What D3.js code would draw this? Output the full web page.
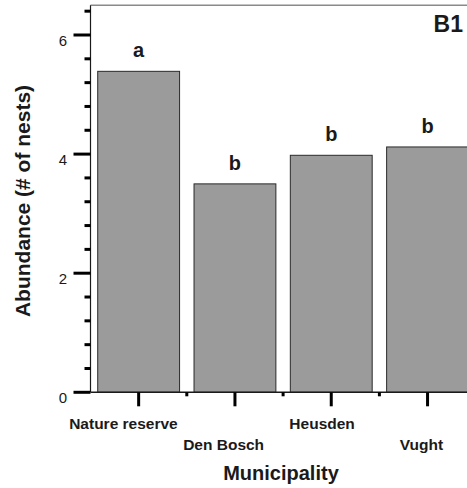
<!DOCTYPE html>
<html>
<head>
<meta charset="utf-8">
<script src="https://cdn.jsdelivr.net/npm/d3@7"></script>
<style>
  html, body { margin: 0; padding: 0; background: #fff; }
  svg { display: block; }
  text { font-family: "Liberation Sans", Arial, Helvetica, sans-serif; fill: #1a1a1a; }
</style>
</head>
<body>
<svg id="chart" width="467" height="488"></svg>
<script>
// Nest abundance per municipality
const categories = ["Nature reserve", "Den Bosch", "Heusden", "Vught"];
const abundance = [5.39, 3.50, 3.98, 4.12];
const groupLetters = ["a", "b", "b", "b"];
const yTickValues = [0, 2, 4, 6];
const yMinorValues = [0.4, 0.8, 1.2, 1.6, 2.4, 2.8, 3.2, 3.6, 4.4, 4.8, 5.2, 5.6, 6.4];
const panelLabel = "B1";
const xTitle = "Municipality";
const yTitle = "Abundance (# of nests)";

const svg = d3.select("#chart");
const W = 467, H = 488;
const left = 90.5, bottom = 392.3;

const x = d3.scaleBand()
  .domain(categories)
  .range([left, left + 4 * 96.3])
  .paddingInner(0.15)
  .paddingOuter(0.075);

const y = d3.scaleLinear()
  .domain([0, 6.5])
  .range([bottom, bottom - 6.5 * 59.55]);

// top frame line
svg.append("line")
  .attr("x1", left).attr("x2", W)
  .attr("y1", y(6.5)).attr("y2", y(6.5))
  .attr("stroke", "#8a8a8a").attr("stroke-width", 1.5);

// bars
svg.append("g").selectAll("rect")
  .data(categories)
  .join("rect")
  .attr("x", d => x(d))
  .attr("y", (d, i) => y(abundance[i]))
  .attr("width", x.bandwidth())
  .attr("height", (d, i) => y(0) - y(abundance[i]))
  .attr("fill", "#9b9b9b")
  .attr("stroke", "#2a2a2a")
  .attr("stroke-width", 1);

// significance letters
svg.append("g").selectAll("text")
  .data(categories)
  .join("text")
  .attr("x", d => x(d) + x.bandwidth() / 2)
  .attr("y", (d, i) => y(abundance[i]) - 14)
  .attr("text-anchor", "middle")
  .attr("font-size", 20)
  .attr("font-weight", "bold")
  .text((d, i) => groupLetters[i]);

// y axis
const yAxis = svg.append("g");
yAxis.append("line")
  .attr("x1", left).attr("x2", left)
  .attr("y1", y(6.5)).attr("y2", bottom)
  .attr("stroke", "#1a1a1a").attr("stroke-width", 1.2);
yAxis.selectAll("line.major")
  .data(yTickValues)
  .join("line")
  .attr("class", "major")
  .attr("x1", left - 17).attr("x2", left)
  .attr("y1", d => y(d)).attr("y2", d => y(d))
  .attr("stroke", "#000").attr("stroke-width", 3);
yAxis.selectAll("line.minor")
  .data(yMinorValues)
  .join("line")
  .attr("class", "minor")
  .attr("x1", left - 6).attr("x2", left)
  .attr("y1", d => y(d)).attr("y2", d => y(d))
  .attr("stroke", "#000").attr("stroke-width", 3);
yAxis.selectAll("text")
  .data(yTickValues)
  .join("text")
  .attr("x", 67)
  .attr("y", d => y(d) + 10.5)
  .attr("text-anchor", "end")
  .attr("font-size", 15)
  .text(d => d);

// x axis
const xAxis = svg.append("g");
xAxis.append("line")
  .attr("x1", left).attr("x2", W)
  .attr("y1", bottom).attr("y2", bottom)
  .attr("stroke", "#1a1a1a").attr("stroke-width", 1.5);
xAxis.selectAll("line.major")
  .data(categories)
  .join("line")
  .attr("class", "major")
  .attr("x1", d => x(d) + x.bandwidth() / 2).attr("x2", d => x(d) + x.bandwidth() / 2)
  .attr("y1", bottom).attr("y2", bottom + 14)
  .attr("stroke", "#000").attr("stroke-width", 3);
xAxis.selectAll("line.minor")
  .data(categories.slice(1))
  .join("line")
  .attr("class", "minor")
  .attr("x1", d => x(d) - x.step() * x.paddingInner() / 2)
  .attr("x2", d => x(d) - x.step() * x.paddingInner() / 2)
  .attr("y1", bottom).attr("y2", bottom + 4)
  .attr("stroke", "#000").attr("stroke-width", 3);
xAxis.selectAll("text")
  .data(categories)
  .join("text")
  .attr("y", (d, i) => i % 2 === 0 ? 429 : 449.5)
  .attr("font-size", 15.5)
  .attr("font-weight", "bold")
  .text(d => d)
  .attr("x", function (d) {
    const len = this.getComputedTextLength();
    return x(d) + x.bandwidth() / 2 - 0.64 * len;
  });

// titles
svg.append("text")
  .attr("x", 281).attr("y", 480)
  .attr("text-anchor", "middle")
  .attr("font-size", 20)
  .attr("font-weight", "bold")
  .text(xTitle);

svg.append("text")
  .attr("transform", "translate(30,201) rotate(-90)")
  .attr("text-anchor", "middle")
  .attr("font-size", 21)
  .attr("font-weight", "bold")
  .text(yTitle);

svg.append("text")
  .attr("x", 463).attr("y", 32)
  .attr("text-anchor", "end")
  .attr("font-size", 23)
  .attr("font-weight", "bold")
  .text(panelLabel);
</script>
</body>
</html>
